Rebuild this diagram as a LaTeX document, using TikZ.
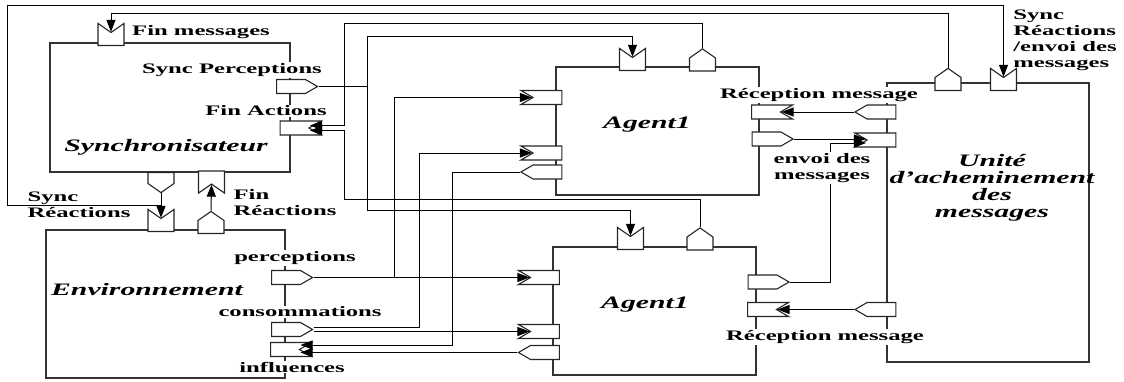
\documentclass[tikz,border=0pt]{standalone}
\usepackage{fontspec}
\setmainfont[FakeStretch=1.7]{Liberation Serif}
\usepackage{tikz}
\usetikzlibrary{shapes.symbols, arrows.meta, positioning}
\tikzstyle{block} = [rectangle, draw=black!80, line width=1.5pt, inner sep=0pt]
\tikzstyle{port} = [signal, draw=black!85, line width=1.1pt, fill=white, inner sep=0pt]
\tikzstyle{hport} = [port, minimum width=41pt, minimum height=14pt, signal pointer angle=60]
\tikzstyle{vport} = [port, minimum width=26pt, minimum height=13pt, signal pointer angle=110]
\tikzstyle{inport} = [signal to=nowhere]
\tikzstyle{line} = [draw, line width=1pt]
\tikzstyle{arrow} = [line, -{Triangle[length=12pt,width=9pt]}]
\tikzstyle{note} = [font=\fontsize{14.5}{16}\selectfont\bfseries, inner sep=1pt]
\tikzstyle{title} = [font=\fontsize{17.5}{17}\selectfont\bfseries\itshape, inner sep=1pt]

\begin{document}
\begin{tikzpicture}[x=1pt, y=-1pt]
    \useasboundingbox (0,0) rectangle (1124,381);
    % blocks
    \node (sync) [block, minimum width=240pt, minimum height=129pt] at (170,107.5) {};
    \node (env) [block, minimum width=239pt, minimum height=148pt] at (165.5,304) {};
    \node (ag1) [block, minimum width=203pt, minimum height=128pt] at (657.5,131) {};
    \node (ag2) [block, minimum width=203pt, minimum height=128pt] at (654.5,311) {};
    \node (unit) [block, minimum width=202pt, minimum height=279pt] at (988,222.5) {};

    % ports of the synchroniser
    \node (finmsg) [vport, inport, signal from=north] at (111,39) {};
    \node (syncperc) [hport, signal to=east] at (291,86.5) {};
    \node (finact) [hport, inport, signal from=east] at (294.5,128) {};
    \node (syncreac) [vport, signal to=south, minimum height=11pt] at (161,178) {};
    \node (finreac) [vport, inport, signal from=south] at (211.5,177.5) {};
    % ports of the environment
    \node (envsync) [vport, inport, signal from=north] at (161,225) {};
    \node (envfinreac) [vport, signal to=north] at (211,227) {};
    \node (perc) [hport, signal to=east] at (286,277.5) {};
    \node (cons) [hport, signal to=east] at (286,329.5) {};
    \node (infl) [hport, inport, signal from=east] at (285,349.5) {};
    % ports of the agents
    \node (a1topin) [vport, inport, signal from=north] at (632.5,64) {};
    \node (a1topout) [vport, signal to=north] at (702.5,64.5) {};
    \node (a1in1) [hport, inport, signal from=west] at (547.5,97.5) {};
    \node (a1in2) [hport, inport, signal from=west] at (547.5,153) {};
    \node (a1out) [hport, signal to=west] at (547.5,172) {};
    \node (a1recv) [hport, inport, signal from=east] at (766,112) {};
    \node (a1send) [hport, signal to=east] at (766.5,139) {};
    \node (a2topin) [vport, inport, signal from=north] at (630.5,243) {};
    \node (a2topout) [vport, signal to=north] at (700,243.5) {};
    \node (a2in1) [hport, inport, signal from=west] at (545,277.5) {};
    \node (a2in2) [hport, inport, signal from=west] at (545,331.5) {};
    \node (a2out) [hport, signal to=west] at (545,352.5) {};
    \node (a2send) [hport, signal to=east] at (762.5,282) {};
    \node (a2recv) [hport, inport, signal from=east] at (762,309.5) {};
    % ports of the message unit
    \node (utopout) [vport, signal to=north] at (948,84) {};
    \node (utopin) [vport, inport, signal from=north] at (1003.5,84) {};
    \node (uout1) [hport, signal to=west] at (881.5,112) {};
    \node (uin) [hport, inport, signal from=west] at (881.5,140) {};
    \node (uout2) [hport, signal to=west] at (881.5,309.5) {};

    % bends
    \coordinate (cfin) at (111,13);
    \coordinate (csr) at (161,205);
    \coordinate (cframe) at (7,5);
    \coordinate (sp1) at (367,36);
    \coordinate (sp2) at (367,210);
    \coordinate (fa1) at (344,23);
    \coordinate (fa2) at (344,199);
    \coordinate (pe1) at (394,97.5);
    \coordinate (co1) at (419,153);
    \coordinate (in1) at (452,345);
    \coordinate (ev1) at (830,143);

    % connectors
    \draw[arrow] (utopout.north) |- (cfin) -- (finmsg.north);
    \draw[arrow] (syncreac.south) -- (envsync.north);
    \draw[arrow] (csr) -| (cframe) -| (utopin.north);
    \draw[arrow] (envfinreac.north) -- (finreac.south);
    \draw[arrow] (syncperc.east) -| (sp1) -| (a1topin.north);
    \draw[arrow] (syncperc.east) -| (sp2) -| (a2topin.north);
    \draw[arrow] (a1topout.north) |- (fa1) |- ([yshift=2.5pt]finact.east);
    \draw[arrow] (a2topout.north) |- (fa2) |- ([yshift=-2.5pt]finact.east);
    \draw[arrow] (perc.east) -- (a2in1.west);
    \draw[arrow] (perc.east) -| (pe1) -- (a1in1.west);
    \draw[arrow] ([yshift=2pt]cons.east) -| (co1) -- (a1in2.west);
    \draw[arrow] ([yshift=-2pt]cons.east) -- (a2in2.west);
    \draw[arrow] (a1out.west) -| (in1) -- ([yshift=4.5pt]infl.east);
    \draw[arrow] (a2out.west) -- ([yshift=-3pt]infl.east);
    \draw[arrow] (uout1.west) -- (a1recv.east);
    \draw[arrow] (a1send.east) -- ([yshift=1pt]uin.west);
    \draw[arrow] (a2send.east) -| (ev1) -- ([yshift=-3pt]uin.west);
    \draw[arrow] (uout2.west) -- (a2recv.east);

    % labels
    \node[note] (lfinmsg) at (201,32) {Fin messages};
    \node[note, fill=white] (lsyncperc) at (232,70) {Sync Perceptions};
    \node[note, fill=white] (lfinact) at (266,111) {Fin Actions};
    \node[title] (tsync) at (166,147) {Synchronisateur};
    \node[note, align=left] (lsyncreac) at (79,205) {Sync\\Réactions};
    \node[note, align=left] (lfinreac) at (285,203) {Fin\\Réactions};
    \node[note, fill=white] (lperc) at (295,258) {perceptions};
    \node[title] (tenv) at (147,290) {Environnement};
    \node[note, fill=white] (lcons) at (300,312) {consommations};
    \node[note, fill=white] (linfl) at (292,367) {influences};
    \node[title] (tag1) at (647,125) {Agent1};
    \node[title] (tag2) at (645,305) {Agent1};
    \node[note, fill=white] (lrecv1) at (819,95) {Réception message};
    \node[note, fill=white, align=center] (lsend) at (822,168) {envoi des\\messages};
    \node[note, fill=white] (lrecv2) at (825,337) {Réception message};
    \node[note, align=left] (lunitsync) at (1065,40) {Sync\\Réactions\\/envoi des\\messages};
    \node[title, align=center] (tunit) at (992,188) {Unité\\d'acheminement\\des\\messages};
\end{tikzpicture}
\end{document}
